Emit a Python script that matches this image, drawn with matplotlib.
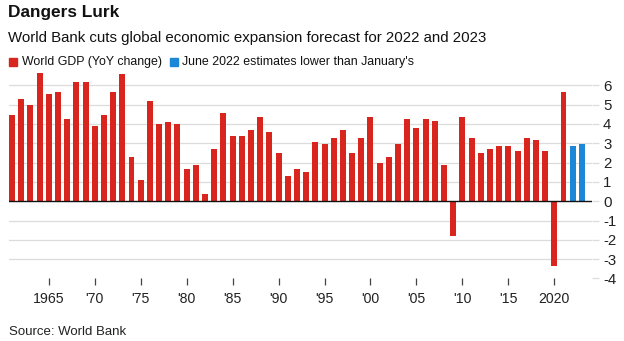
import matplotlib.pyplot as plt

plt.rcParams['font.family'] = ['Liberation Sans', 'DejaVu Sans']

# World GDP growth, % year over year (2022 and 2023 are June forecasts)
years = list(range(1961, 2024))
growth = [4.47, 5.29, 4.98, 6.64, 5.55, 5.66, 4.26, 6.17, 6.17, 3.90,
          4.47, 5.66, 6.59, 2.29, 1.10, 5.19, 4.02, 4.10, 4.02, 1.67,
          1.88, 0.38, 2.71, 4.57, 3.38, 3.38, 3.69, 4.36, 3.59, 2.50,
          1.31, 1.67, 1.52, 3.07, 2.97, 3.28, 3.69, 2.50, 3.28, 4.36,
          1.98, 2.29, 2.97, 4.26, 3.79, 4.26, 4.16, 1.88, -1.78, 4.36,
          3.28, 2.50, 2.71, 2.86, 2.86, 2.60, 3.28, 3.17, 2.60, -3.33,
          5.66, 2.86, 2.97]
forecast_years = [2022, 2023]

tick_years = [1965, 1970, 1975, 1980, 1985, 1990, 1995, 2000, 2005, 2010, 2015, 2020]
tick_labels = ['1965', "'70", "'75", "'80", "'85", "'90", "'95", "'00", "'05", "'10", "'15", '2020']

red = '#d8261e'
blue = '#1b87d6'
colors = [blue if y in forecast_years else red for y in years]

fig = plt.figure(figsize=(6.24, 3.41), dpi=100)
ax = fig.add_axes([0.0144, 0.1833, 0.9343, 0.606])

ax.bar(years, growth, width=0.65, color=colors, zorder=2)

ax.set_xlim(1960.67, 2024.1)
ax.set_ylim(-4, 6.7)

# light gridlines, no line at -4, black zero line
for v in range(-3, 7):
    if v == 0:
        continue
    ax.axhline(v, color='#dcdcdc', lw=0.9, zorder=1)
ax.axhline(0, color='#111111', lw=1.0, zorder=3)

ax.yaxis.tick_right()
ax.set_yticks(range(-4, 7))
ax.set_yticklabels([str(v) for v in range(-4, 7)])
ax.tick_params(axis='y', length=5, width=0.9, color='#dcdcdc', pad=3,
               labelsize=10.8, labelcolor='#222222')

ax.set_xticks(tick_years)
ax.set_xticklabels(tick_labels)
ax.tick_params(axis='x', length=5, width=0.9, color='#444444', pad=5,
               labelsize=10.2, labelcolor='#222222', direction='out')

for s in ax.spines.values():
    s.set_visible(False)

# header, legend and source
fig.text(8 / 624, 1 - 13 / 341, 'Dangers Lurk', fontsize=12.4, fontweight='bold',
         va='center', ha='left', color='#111111')
fig.text(8 / 624, 1 - 38 / 341,
         'World Bank cuts global economic expansion forecast for 2022 and 2023',
         fontsize=10.8, va='center', ha='left', color='#111111')

fig.patches.append(plt.Rectangle((9 / 624, 1 - 66 / 341), 8 / 624, 8 / 341,
                                 transform=fig.transFigure, color=red))
fig.text(22 / 624, 1 - 62 / 341, 'World GDP (YoY change)', fontsize=8.9,
         va='center', ha='left', color='#111111')
fig.patches.append(plt.Rectangle((170 / 624, 1 - 66 / 341), 8 / 624, 8 / 341,
                                 transform=fig.transFigure, color=blue))
fig.text(182 / 624, 1 - 62 / 341, "June 2022 estimates lower than January's",
         fontsize=8.9, va='center', ha='left', color='#111111')

fig.text(9 / 624, 1 - 332 / 341, 'Source: World Bank', fontsize=9.5,
         va='center', ha='left', color='#222222')

fig.savefig('out.png', dpi=100)
